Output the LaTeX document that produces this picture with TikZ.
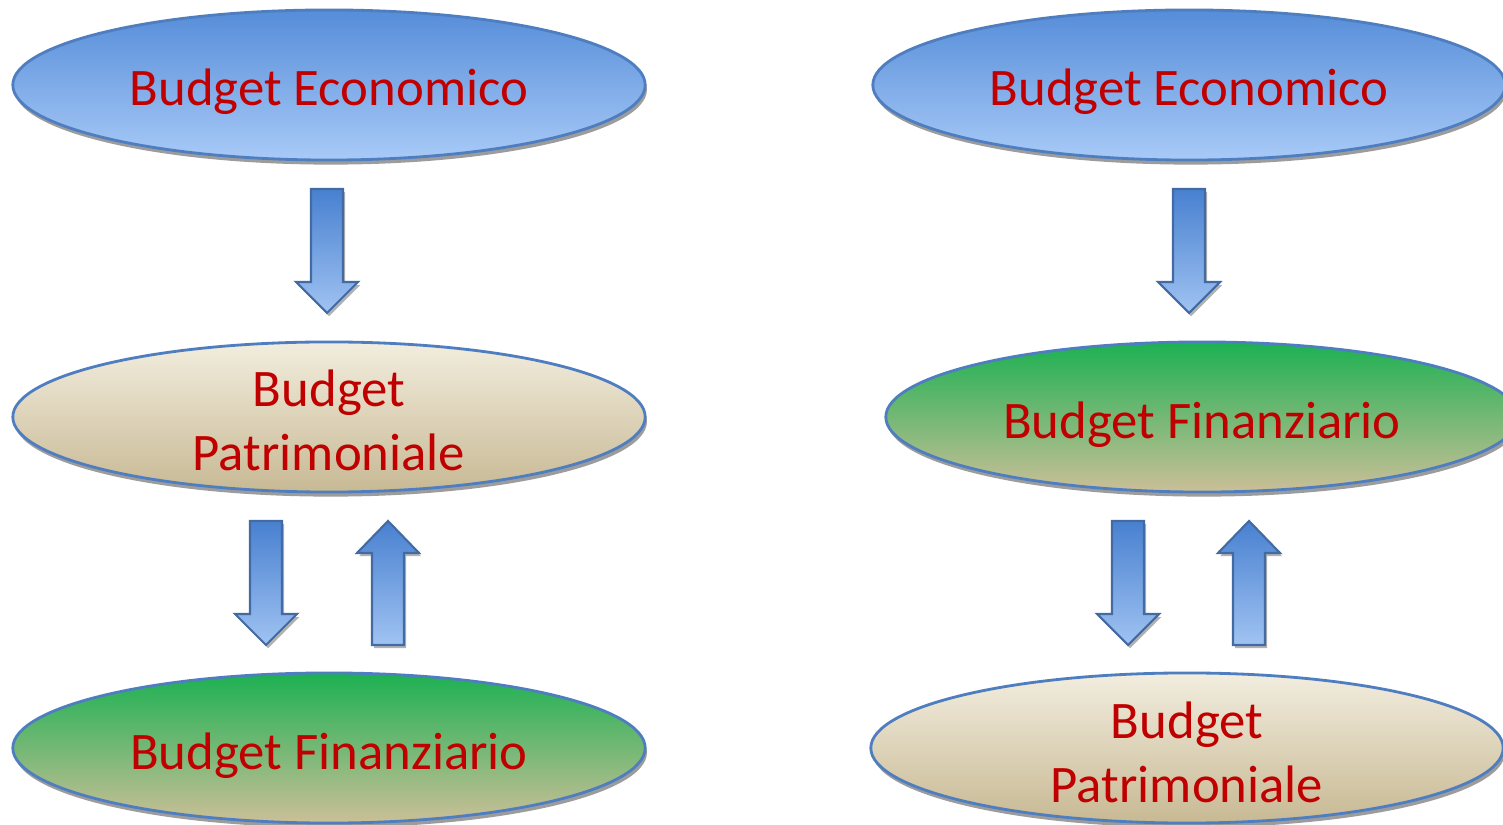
\documentclass[tikz,border=0pt]{standalone}
\usepackage{fontspec}
\setmainfont{Carlito}
\usetikzlibrary{shapes.geometric, shadows}

\definecolor{ecotop}{RGB}{86,141,217}
\definecolor{ecobot}{RGB}{168,202,247}
\definecolor{pattop}{RGB}{242,237,222}
\definecolor{patbot}{RGB}{200,185,148}
\definecolor{fintop}{RGB}{28,177,82}
\definecolor{finbot}{RGB}{204,191,152}
\definecolor{rim}{RGB}{79,126,192}
\definecolor{arrtop}{RGB}{72,128,208}
\definecolor{arrbot}{RGB}{160,195,242}
\definecolor{label}{RGB}{192,0,0}

% lower a line of text without changing its box
\newcommand\lowered[2]{\raisebox{-#1}[\height][\depth]{#2}}

\begin{document}
\begin{tikzpicture}[x=0.01cm, y=-0.01cm,
	budget/.style = {ellipse, draw = rim, thick, inner sep = 0pt,
		minimum width = 6.32cm, minimum height = 1.5cm,
		align = center, text = label,
		font = \fontsize{15}{18}\selectfont,
		drop shadow = {shadow xshift = 0.5pt, shadow yshift = -1.3pt,
			fill = black!55, opacity = 0.7}},
	eco/.style = {budget, top color = ecotop, bottom color = ecobot},
	pat/.style = {budget, top color = pattop, bottom color = patbot},
	fin/.style = {budget, top color = fintop, bottom color = finbot},
	blockarrow/.style = {draw = rim!85!black, semithick, top color = arrtop,
		bottom color = arrbot,
		drop shadow = {shadow xshift = 0.6pt, shadow yshift = -0.9pt,
			fill = black!50, opacity = 0.6}}]
\clip (0, 0) rectangle (1503, 825);
\fill[white] (0, 0) rectangle (1503, 825);

% left column
\node[eco] (ecoL) at (329, 85) {\lowered{0.07cm}{Budget Economico}};
\node[pat] (patL) at (329, 417)
	{\lowered{0.035cm}{Budget}\\\lowered{0.035cm}{Patrimoniale}};
\node[fin] (finL) at (329, 748) {\lowered{0.08cm}{Budget Finanziario}};

% right column
\node[eco] (ecoR) at (1189, 85) {\lowered{0.07cm}{Budget Economico}};
\node[fin] (finR) at (1202, 417) {\lowered{0.08cm}{Budget Finanziario}};
\node[pat] (patR) at (1187, 748)
	{\lowered{0.045cm}{Budget}\\\lowered{0.045cm}{Patrimoniale}};

% down arrows
\foreach \x/\t/\b in {327/189/313, 266/521/645, 1189/189/313, 1128/521/645}
	\draw[blockarrow] (\x-16, \t) -- (\x+16, \t) -- (\x+16, \b-31) --
		(\x+31, \b-31) -- (\x, \b) -- (\x-31, \b-31) -- (\x-16, \b-31) -- cycle;

% up arrows
\foreach \x/\t/\b in {388/521/645, 1249/521/645}
	\draw[blockarrow] (\x, \t) -- (\x+31, \t+32) -- (\x+16, \t+32) --
		(\x+16, \b) -- (\x-16, \b) -- (\x-16, \t+32) -- (\x-31, \t+32) -- cycle;
\end{tikzpicture}
\end{document}
